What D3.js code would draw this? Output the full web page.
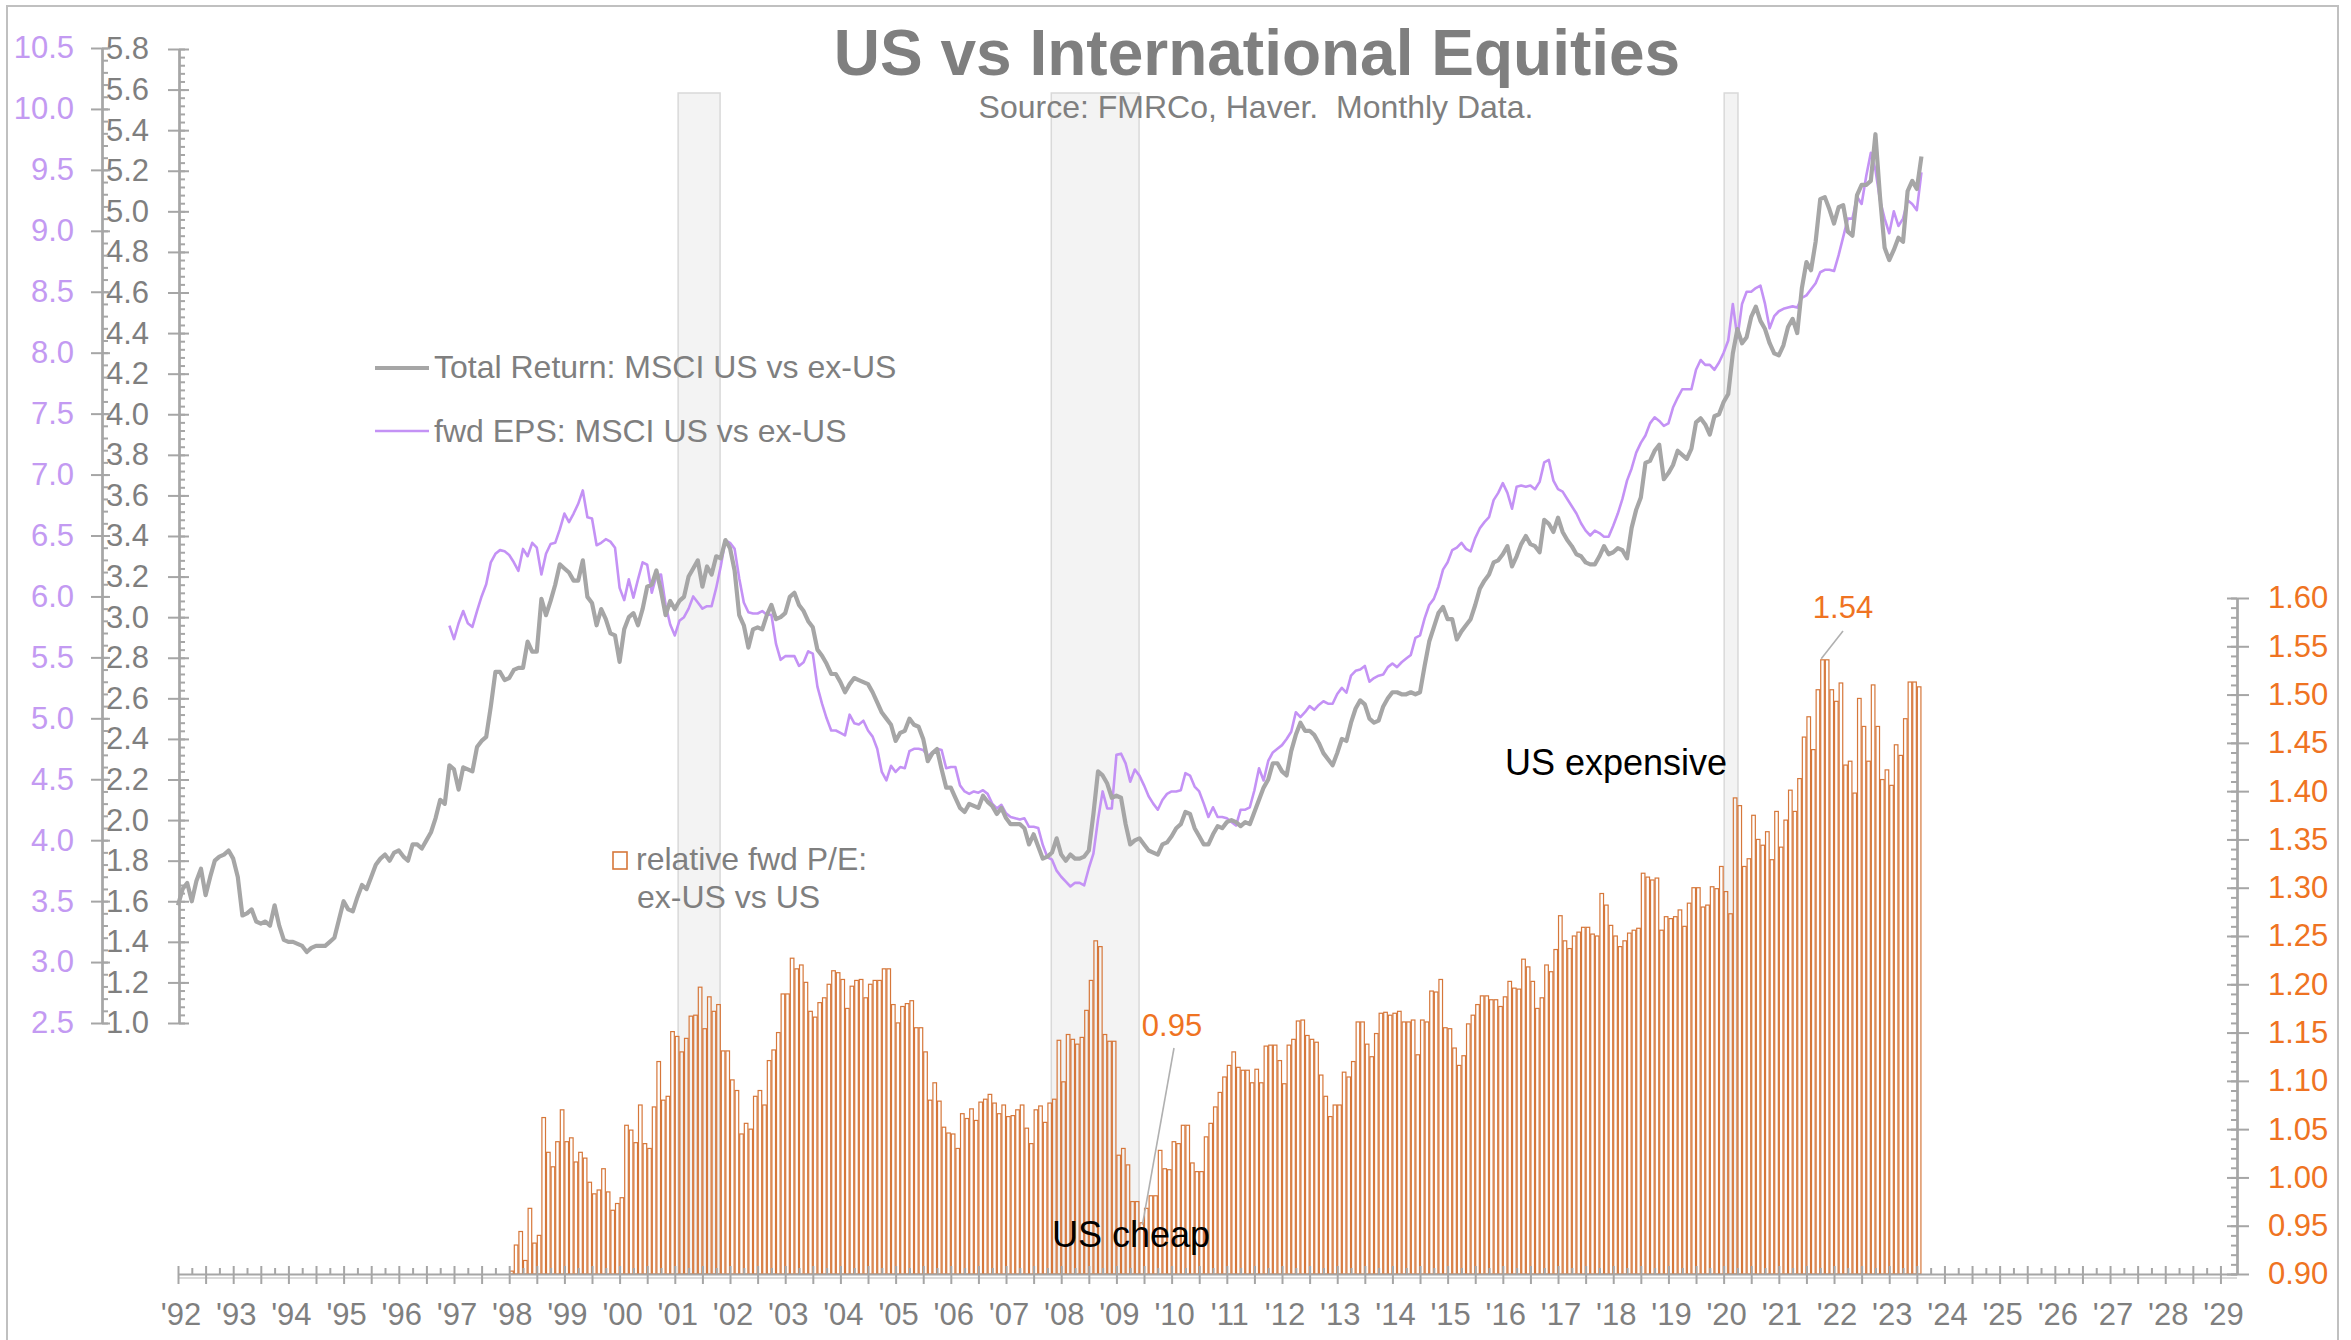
<!DOCTYPE html>
<html>
<head>
<meta charset="utf-8">
<script src="https://cdn.jsdelivr.net/npm/d3@7"></script>
<style>
  html, body { margin: 0; padding: 0; background: #ffffff; }
  svg { display: block; }
  text { font-family: "Liberation Sans", Arial, sans-serif; white-space: pre; }
</style>
</head>
<body>
<svg id="chart" width="2351" height="1340"></svg>
<script>
// ---------------- DATA ----------------
const title = "US vs International Equities";
const subtitle = "Source: FMRCo, Haver.  Monthly Data.";
const seriesNames = ["Total Return: MSCI US vs ex-US", "fwd EPS: MSCI US vs ex-US", "relative fwd P/E:", "ex-US vs US"];

// month index 0 = Jan 1992
const totalReturnStart = 0;   // Jan 1992
const totalReturn = [
  1.58,1.66,1.69,1.60,1.70,1.76,1.63,1.72,1.80,1.82,1.83,1.85,
  1.81,1.72,1.53,1.54,1.56,1.50,1.49,1.50,1.48,1.58,1.48,1.41,
  1.40,1.40,1.39,1.38,1.35,1.37,1.38,1.38,1.38,1.40,1.42,1.51,
  1.60,1.56,1.55,1.62,1.68,1.66,1.72,1.78,1.81,1.83,1.80,1.84,
  1.85,1.82,1.80,1.88,1.88,1.86,1.90,1.94,2.01,2.10,2.08,2.27,
  2.25,2.15,2.26,2.25,2.24,2.36,2.39,2.41,2.56,2.73,2.73,2.69,
  2.70,2.74,2.75,2.75,2.88,2.83,2.83,3.09,3.01,3.08,3.16,3.26,
  3.24,3.22,3.18,3.18,3.28,3.10,3.07,2.96,3.04,2.99,2.92,2.91,
  2.78,2.94,3.00,3.02,2.96,3.04,3.15,3.16,3.23,3.13,3.01,3.08,
  3.04,3.08,3.10,3.20,3.24,3.28,3.15,3.25,3.21,3.30,3.29,3.38,
  3.34,3.23,3.01,2.96,2.85,2.94,2.95,2.94,3.01,3.06,2.99,3.00,
  3.02,3.10,3.12,3.06,3.03,2.98,2.95,2.84,2.81,2.77,2.72,2.72,
  2.68,2.63,2.67,2.70,2.69,2.68,2.67,2.63,2.58,2.53,2.50,2.47,
  2.39,2.43,2.44,2.50,2.47,2.46,2.40,2.29,2.33,2.35,2.25,2.16,
  2.16,2.11,2.06,2.04,2.08,2.07,2.06,2.12,2.09,2.07,2.03,2.06,
  2.01,1.98,1.98,1.98,1.96,1.88,1.93,1.87,1.81,1.82,1.84,1.91,
  1.83,1.80,1.83,1.81,1.81,1.82,1.85,2.03,2.24,2.22,2.18,2.11,
  2.12,2.11,1.98,1.88,1.90,1.91,1.88,1.85,1.84,1.83,1.88,1.89,
  1.92,1.96,1.98,2.04,2.03,1.96,1.92,1.88,1.88,1.93,1.97,1.96,
  1.99,2.00,1.99,1.97,1.99,1.98,2.04,2.10,2.16,2.20,2.28,2.28,
  2.24,2.22,2.34,2.42,2.48,2.44,2.44,2.42,2.38,2.33,2.30,2.27,
  2.33,2.40,2.39,2.48,2.55,2.59,2.57,2.50,2.48,2.49,2.56,2.60,
  2.63,2.63,2.62,2.62,2.63,2.62,2.63,2.76,2.88,2.95,3.02,3.05,
  2.99,2.99,2.89,2.93,2.96,2.99,3.06,3.14,3.18,3.21,3.27,3.28,
  3.31,3.35,3.25,3.30,3.36,3.40,3.36,3.35,3.32,3.48,3.46,3.42,
  3.49,3.42,3.38,3.35,3.31,3.30,3.27,3.26,3.26,3.30,3.35,3.31,
  3.32,3.34,3.33,3.29,3.44,3.53,3.59,3.76,3.77,3.82,3.85,3.68,
  3.71,3.75,3.82,3.80,3.78,3.83,3.96,3.98,3.95,3.90,3.99,4.00,
  4.06,4.10,4.30,4.42,4.35,4.38,4.48,4.53,4.46,4.42,4.35,4.30,
  4.29,4.34,4.43,4.47,4.40,4.62,4.75,4.71,4.85,5.06,5.07,5.01,
  4.94,5.02,5.03,4.90,4.88,5.08,5.13,5.13,5.15,5.38,5.07,4.82,
  4.76,4.81,4.87,4.85,5.10,5.15,5.11,5.27
];

const fwdEpsStart = 59;   // Dec 1996
const fwdEps = [
  5.76,
  5.65,5.78,5.88,5.78,5.75,5.88,6.00,6.10,6.28,6.35,6.38,6.37,
  6.34,6.28,6.21,6.39,6.33,6.44,6.40,6.18,6.35,6.43,6.44,6.55,
  6.68,6.61,6.68,6.76,6.87,6.65,6.64,6.42,6.44,6.47,6.45,6.40,
  6.07,5.97,6.14,5.99,6.14,6.28,6.26,6.03,6.17,6.18,5.93,5.77,
  5.68,5.80,5.83,5.90,6.00,5.95,5.90,5.92,5.92,6.07,6.25,6.46,
  6.44,6.39,6.15,5.95,5.87,5.86,5.86,5.88,5.85,5.85,5.61,5.48,
  5.51,5.51,5.51,5.43,5.46,5.55,5.53,5.26,5.12,5.00,4.90,4.90,
  4.88,4.86,5.03,4.96,4.95,4.98,4.90,4.85,4.75,4.56,4.49,4.61,
  4.56,4.60,4.59,4.73,4.75,4.75,4.74,4.69,4.72,4.75,4.74,4.59,
  4.60,4.60,4.45,4.40,4.38,4.40,4.39,4.41,4.38,4.30,4.26,4.29,
  4.22,4.19,4.18,4.17,4.18,4.11,4.11,4.10,3.96,3.86,3.84,3.75,
  3.70,3.66,3.62,3.65,3.65,3.63,3.77,3.89,4.17,4.40,4.26,4.26,
  4.70,4.71,4.63,4.48,4.58,4.53,4.45,4.36,4.30,4.25,4.33,4.38,
  4.40,4.40,4.41,4.55,4.53,4.44,4.40,4.30,4.19,4.27,4.19,4.19,
  4.18,4.15,4.12,4.25,4.25,4.27,4.41,4.59,4.49,4.65,4.72,4.75,
  4.78,4.83,4.89,5.05,5.01,5.05,5.10,5.07,5.11,5.14,5.12,5.12,
  5.20,5.25,5.21,5.35,5.39,5.40,5.43,5.30,5.33,5.35,5.36,5.42,
  5.45,5.42,5.46,5.49,5.52,5.66,5.68,5.82,5.93,5.98,6.08,6.22,
  6.28,6.38,6.40,6.44,6.39,6.37,6.48,6.56,6.61,6.65,6.79,6.85,
  6.93,6.85,6.72,6.90,6.91,6.90,6.91,6.88,6.94,7.10,7.12,6.95,
  6.88,6.86,6.80,6.74,6.68,6.60,6.54,6.50,6.54,6.52,6.49,6.49,
  6.58,6.68,6.80,6.95,7.05,7.18,7.26,7.32,7.42,7.47,7.44,7.40,
  7.42,7.55,7.63,7.70,7.70,7.70,7.86,7.94,7.90,7.90,7.86,7.92,
  8.00,8.10,8.40,8.12,8.40,8.50,8.50,8.53,8.55,8.40,8.20,8.30,
  8.34,8.36,8.37,8.38,8.37,8.45,8.47,8.52,8.57,8.66,8.68,8.68,
  8.67,8.80,8.95,9.10,9.10,9.28,9.22,9.45,9.64,9.50,9.25,9.10,
  8.98,9.16,9.04,9.10,9.25,9.22,9.17,9.48
];

const relPeStart = 72;   // Jan 1998
const relPe = [
  0.903,0.930,0.944,0.914,0.968,0.932,0.940,1.062,1.026,1.011,1.037,1.070,
  1.037,1.041,1.016,1.026,1.020,0.995,0.983,0.987,1.009,0.985,0.966,0.973,
  0.979,1.054,1.049,1.036,1.075,1.035,1.030,1.073,1.120,1.080,1.084,1.151,
  1.146,1.130,1.144,1.167,1.168,1.197,1.154,1.187,1.172,1.179,1.131,1.131,
  1.101,1.090,1.045,1.056,1.050,1.084,1.090,1.075,1.121,1.132,1.150,1.190,
  1.190,1.227,1.216,1.220,1.202,1.172,1.166,1.181,1.186,1.200,1.214,1.212,
  1.205,1.175,1.198,1.204,1.205,1.186,1.200,1.204,1.204,1.216,1.216,1.179,
  1.160,1.177,1.180,1.183,1.155,1.155,1.130,1.080,1.098,1.079,1.052,1.046,
  1.045,1.030,1.066,1.061,1.071,1.059,1.078,1.081,1.086,1.077,1.066,1.075,
  1.063,1.064,1.070,1.075,1.051,1.035,1.070,1.074,1.057,1.077,1.081,1.142,
  1.099,1.148,1.143,1.138,1.145,1.173,1.204,1.245,1.239,1.148,1.141,1.141,
  1.023,1.030,1.013,0.975,0.975,0.953,0.968,0.981,0.981,1.028,1.009,1.008,
  1.037,1.035,1.054,1.054,1.015,1.006,1.006,1.042,1.056,1.073,1.088,1.104,
  1.116,1.130,1.114,1.111,1.111,1.098,1.112,1.098,1.136,1.137,1.137,1.121,
  1.097,1.137,1.143,1.162,1.163,1.147,1.143,1.140,1.106,1.084,1.063,1.075,
  1.075,1.109,1.104,1.120,1.161,1.161,1.138,1.125,1.149,1.170,1.171,1.168,
  1.170,1.172,1.161,1.161,1.163,1.127,1.163,1.161,1.193,1.192,1.205,1.155,
  1.154,1.134,1.116,1.126,1.159,1.168,1.179,1.188,1.188,1.184,1.184,1.177,
  1.187,1.203,1.196,1.195,1.226,1.218,1.203,1.175,1.186,1.220,1.213,1.236,
  1.271,1.245,1.237,1.250,1.254,1.259,1.259,1.252,1.250,1.294,1.282,1.261,
  1.250,1.239,1.245,1.253,1.256,1.258,1.315,1.311,1.308,1.310,1.256,1.270,
  1.268,1.270,1.277,1.260,1.284,1.300,1.300,1.280,1.282,1.301,1.299,1.322,
  1.296,1.273,1.393,1.385,1.322,1.330,1.375,1.350,1.344,1.358,1.329,1.379,
  1.342,1.370,1.401,1.379,1.413,1.456,1.477,1.443,1.505,1.536,1.536,1.505,
  1.493,1.512,1.427,1.431,1.398,1.496,1.467,1.431,1.510,1.467,1.412,1.422,
  1.406,1.448,1.437,1.475,1.513,1.513,1.508
];

// recessions, in decimal years
const recessionStart = [2001.06, 2007.82, 2020.01];
const recessionEnd   = [2001.82, 2009.41, 2020.26];

// axis ticks
const yearLabels = d3.range(1992, 2030);
const grayTicks = d3.range(1.0, 5.81, 0.2);
const purpleTicks = d3.range(2.5, 10.51, 0.5);
const peTicks = d3.range(0.90, 1.601, 0.05);

// annotations
const annotations = [
  { text: "1.54", month: 357, value: 1.536 },
  { text: "0.95", month: 209, value: 0.953 }
];

// ---------------- CHART ----------------
const svg = d3.select("#chart");
const FONT = '"Liberation Sans", Arial, sans-serif';
const GRAY_TXT = "#7f7f7f";
const AXIS_C = "#a6a6a6";
const PURPLE = "#c492f5";
const PURPLE_TXT = "#c39af2";
const ORANGE = "#ef7322";
const BAR_C = "#d6773a";
const LINE_GRAY = "#a6a6a6";

svg.append("rect").attr("x", 0).attr("y", 0).attr("width", 2351).attr("height", 1340).attr("fill", "#fff");
svg.append("rect").attr("x", 7).attr("y", 6).attr("width", 2331).attr("height", 1345)
  .attr("fill", "#fff").attr("stroke", "#c0c0c0").attr("stroke-width", 2);

const x = d3.scaleLinear().domain([0, 447.6]).range([178, 2237]);
const yearX = yr => x((yr - 1992) * 12);
const yGray = d3.scaleLinear().domain([1.0, 5.8]).range([1023, 49]);
const yPurple = d3.scaleLinear().domain([2.5, 10.5]).range([1023, 48]);
const yPe = d3.scaleLinear().domain([0.9, 1.6]).range([1274, 598]);

// recession bands
svg.append("g").selectAll("rect").data(recessionStart).join("rect")
  .attr("x", (d) => yearX(d))
  .attr("width", (d, i) => yearX(recessionEnd[i]) - yearX(d))
  .attr("y", 93).attr("height", 1274 - 93)
  .attr("fill", "#f3f3f3").attr("stroke", "#d9d9d9").attr("stroke-width", 1.5);

// bars
const barData = relPe.map((v, i) => ({ m: relPeStart + i, v }));
svg.append("g").selectAll("rect").data(barData).join("rect")
  .attr("x", d => x(d.m) + 0.5)
  .attr("width", d => x(d.m + 1) - x(d.m) - 1)
  .attr("y", d => yPe(d.v))
  .attr("height", d => yPe(0.9) - yPe(d.v))
  .attr("fill", "none").attr("stroke", BAR_C).attr("stroke-width", 1.2);

// axes helper
function styleAxis(g) {
  g.selectAll("path").attr("stroke", AXIS_C).attr("stroke-width", 2);
  g.selectAll("line").attr("stroke", AXIS_C).attr("stroke-width", 2);
  g.selectAll("text").attr("font-family", FONT).attr("font-size", 31);
}

// X axis (second light line)
svg.append("line").attr("x1", 178).attr("x2", 2237).attr("y1", 1278).attr("y2", 1278)
  .attr("stroke", "#dadada").attr("stroke-width", 2);

const halfYears = d3.range(0, 447, 6);
const quarters = d3.range(3, 447, 6);
const gx1 = svg.append("g").attr("transform", "translate(0,1274)")
  .call(d3.axisBottom(x).tickValues(halfYears).tickSizeInner(10).tickSizeOuter(0).tickFormat(""));
styleAxis(gx1);
const gx2 = svg.append("g").attr("transform", "translate(0,1274)")
  .call(d3.axisTop(x).tickValues(halfYears).tickSizeInner(8).tickSizeOuter(0).tickFormat(""));
styleAxis(gx2);
const gx3 = svg.append("g").attr("transform", "translate(0,1274)")
  .call(d3.axisTop(x).tickValues(quarters).tickSizeInner(6).tickSizeOuter(0).tickFormat(""));
styleAxis(gx3);
gx2.select("path").remove(); gx3.select("path").remove();

svg.append("g").selectAll("text").data(yearLabels).join("text")
  .attr("x", d => yearX(d) + 3).attr("y", 1325)
  .attr("text-anchor", "middle").attr("font-family", FONT).attr("font-size", 31)
  .attr("fill", GRAY_TXT).text(d => "'" + String(d % 100).padStart(2, "0"));

// gray (total return) axis at x=179
const minorGray = d3.range(1.0, 5.801, 0.04);
const gg1 = svg.append("g").attr("transform", "translate(179,0)")
  .call(d3.axisLeft(yGray).tickValues(grayTicks).tickSizeInner(11).tickSizeOuter(0).tickPadding(19).tickFormat(d3.format(".1f")));
styleAxis(gg1);
gg1.selectAll("text").attr("fill", GRAY_TXT);
const gg2 = svg.append("g").attr("transform", "translate(179,0)")
  .call(d3.axisRight(yGray).tickValues(minorGray).tickSizeInner(6).tickSizeOuter(0).tickFormat(""));
styleAxis(gg2);
const gg3 = svg.append("g").attr("transform", "translate(179,0)")
  .call(d3.axisRight(yGray).tickValues(grayTicks).tickSizeInner(10).tickSizeOuter(0).tickFormat(""));
styleAxis(gg3);

// purple (fwd EPS) axis at x=102
const minorPurple = d3.range(2.5, 10.501, 0.1);
const gp1 = svg.append("g").attr("transform", "translate(102,0)")
  .call(d3.axisLeft(yPurple).tickValues(purpleTicks).tickSizeInner(11).tickSizeOuter(0).tickPadding(17).tickFormat(d3.format(".1f")));
styleAxis(gp1);
gp1.selectAll("text").attr("fill", PURPLE_TXT);
const gp2 = svg.append("g").attr("transform", "translate(102,0)")
  .call(d3.axisRight(yPurple).tickValues(minorPurple).tickSizeInner(6).tickSizeOuter(0).tickFormat(""));
styleAxis(gp2);
const gp3 = svg.append("g").attr("transform", "translate(102,0)")
  .call(d3.axisRight(yPurple).tickValues(purpleTicks).tickSizeInner(8).tickSizeOuter(0).tickFormat(""));
styleAxis(gp3);

// right (P/E) axis at x=2237
const minorPe = d3.range(0.90, 1.6001, 0.01);
const gr1 = svg.append("g").attr("transform", "translate(2237,0)")
  .call(d3.axisRight(yPe).tickValues(peTicks).tickSizeInner(12).tickSizeOuter(0).tickPadding(19).tickFormat(d3.format(".2f")));
styleAxis(gr1);
gr1.selectAll("text").attr("fill", ORANGE);
const gr2 = svg.append("g").attr("transform", "translate(2237,0)")
  .call(d3.axisLeft(yPe).tickValues(minorPe).tickSizeInner(6).tickSizeOuter(0).tickFormat(""));
styleAxis(gr2);
const gr3 = svg.append("g").attr("transform", "translate(2237,0)")
  .call(d3.axisLeft(yPe).tickValues(peTicks).tickSizeInner(10).tickSizeOuter(0).tickFormat(""));
styleAxis(gr3);

// lines
const grayData = totalReturn.map((v, i) => ({ m: totalReturnStart + i, v }));
const purpleData = fwdEps.map((v, i) => ({ m: fwdEpsStart + i, v }));
svg.append("path").datum(purpleData)
  .attr("d", d3.line().x(d => x(d.m)).y(d => yPurple(d.v)))
  .attr("fill", "none").attr("stroke", PURPLE).attr("stroke-width", 2.6).attr("stroke-linejoin", "round");
svg.append("path").datum(grayData)
  .attr("d", d3.line().x(d => x(d.m)).y(d => yGray(d.v)))
  .attr("fill", "none").attr("stroke", LINE_GRAY).attr("stroke-width", 4.2).attr("stroke-linejoin", "round");

// title
svg.append("text").attr("x", 1257).attr("y", 75).attr("text-anchor", "middle")
  .attr("font-family", FONT).attr("font-size", 64).attr("font-weight", "bold")
  .attr("fill", GRAY_TXT).text(title);
svg.append("text").attr("x", 1256).attr("y", 118).attr("text-anchor", "middle")
  .attr("font-family", FONT).attr("font-size", 32).attr("xml:space", "preserve")
  .style("white-space", "pre")
  .attr("fill", GRAY_TXT).text(subtitle);

// legend
svg.append("line").attr("x1", 375).attr("x2", 429).attr("y1", 368).attr("y2", 368)
  .attr("stroke", LINE_GRAY).attr("stroke-width", 4.2);
svg.append("text").attr("x", 434).attr("y", 378).attr("font-family", FONT).attr("font-size", 32)
  .attr("fill", GRAY_TXT).text(seriesNames[0]);
svg.append("line").attr("x1", 375).attr("x2", 429).attr("y1", 431).attr("y2", 431)
  .attr("stroke", PURPLE).attr("stroke-width", 2.6);
svg.append("text").attr("x", 434).attr("y", 442).attr("font-family", FONT).attr("font-size", 32)
  .attr("fill", GRAY_TXT).text(seriesNames[1]);
svg.append("rect").attr("x", 613).attr("y", 852).attr("width", 14).attr("height", 17)
  .attr("fill", "#fff").attr("stroke", BAR_C).attr("stroke-width", 1.6);
svg.append("text").attr("x", 636).attr("y", 870).attr("font-family", FONT).attr("font-size", 32)
  .attr("fill", GRAY_TXT).text(seriesNames[2]);
svg.append("text").attr("x", 637).attr("y", 908).attr("font-family", FONT).attr("font-size", 32)
  .attr("fill", GRAY_TXT).text(seriesNames[3]);

// annotations
const a1 = annotations[0], a2 = annotations[1];
svg.append("line").attr("x1", 1843).attr("y1", 631).attr("x2", x(a1.month) + 1).attr("y2", yPe(a1.value) - 1)
  .attr("stroke", "#b0b0b0").attr("stroke-width", 1.6);
svg.append("text").attr("x", 1843).attr("y", 618).attr("text-anchor", "middle")
  .attr("font-family", FONT).attr("font-size", 31).attr("fill", ORANGE).text(a1.text);
svg.append("line").attr("x1", 1174).attr("y1", 1048).attr("x2", x(a2.month) + 3).attr("y2", yPe(a2.value) + 2)
  .attr("stroke", "#b0b0b0").attr("stroke-width", 1.6);
svg.append("text").attr("x", 1172).attr("y", 1036).attr("text-anchor", "middle")
  .attr("font-family", FONT).attr("font-size", 31).attr("fill", ORANGE).text(a2.text);

svg.append("text").attr("x", 1505).attr("y", 775).attr("font-family", FONT).attr("font-size", 36)
  .attr("fill", "#000").text("US expensive");
svg.append("text").attr("x", 1052).attr("y", 1247).attr("font-family", FONT).attr("font-size", 36)
  .attr("fill", "#000").text("US cheap");
</script>
</body>
</html>
